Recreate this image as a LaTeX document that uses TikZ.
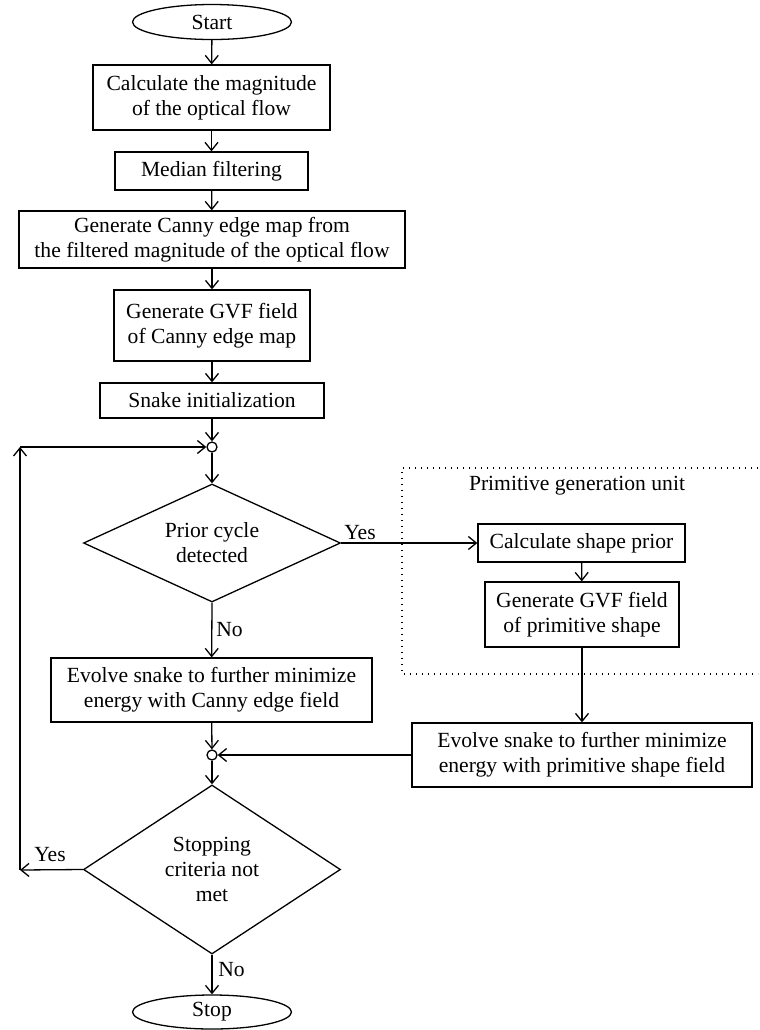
\documentclass[tikz,border=0pt]{standalone}
\usepackage{fontspec}
\setmainfont{Liberation Serif}
\usetikzlibrary{shapes.geometric,arrows.meta}
\begin{document}
\begin{tikzpicture}[x=0.5pt,y=-0.5pt,
  every node/.style={font=\fontsize{10.8}{12.5}\selectfont},
  lw/.style={line width=0.65pt},
  box/.style={draw,lw,rectangle,inner sep=0pt,align=center},
  term/.style={draw,lw,ellipse,inner sep=0pt,minimum width=79.5pt,minimum height=17.5pt},
  dec/.style={draw,lw,diamond,inner sep=0pt,align=center},
  junc/.style={draw,lw,circle,inner sep=0pt,minimum size=5pt,fill=white},
  arr/.style={lw,-{Straight Barb[length=4pt,width=6.5pt]}},
  lab/.style={inner sep=0pt}
]
\useasboundingbox (0,0) rectangle (760,1030);
% dotted unit frame
\draw[lw,dash pattern=on 0.6pt off 2.4pt] (758,468) -- (402,468) -- (402,674) -- (758,674);
\node[lab] (unit) at (577,486) {Primitive generation unit};

\node[term] (start) at (212,22) {Start};
\node[box,minimum width=118.5pt,minimum height=32.5pt] (b1) at (211.5,97.5) {Calculate the magnitude\\of the optical flow};
\node[box,minimum width=96.5pt,minimum height=19pt] (b2) at (211.5,171) {Median filtering};
\node[box,minimum width=193pt,minimum height=28.5pt] (b3) at (212,239.5) {Generate Canny edge map from\\the filtered magnitude of the optical flow};
\node[box,minimum width=98pt,minimum height=35.5pt] (b4) at (212,325.5) {Generate GVF field\\of Canny edge map};
\node[box,minimum width=112pt,minimum height=17.5pt] (b5) at (212,400.5) {Snake initialization};
\node[junc] (c1) at (212,447) {};
\node[dec,aspect=2.18,minimum width=128.5pt,minimum height=59pt] (d1) at (212,543) {Prior cycle\\detected};
\node[box,minimum width=160.5pt,minimum height=32pt] (b6) at (211.5,690) {Evolve snake to further minimize\\energy with Canny edge field};
\node[junc] (c2) at (212,755) {};
\node[dec,aspect=1.52,minimum width=128.5pt,minimum height=84.5pt] (d2) at (212,869.5) {Stopping\\criteria not\\met};
\node[term,minimum height=17pt] (stop) at (212,1012) {Stop};

\node[box,minimum width=103.5pt,minimum height=19pt] (p1) at (581.5,543) {Calculate shape prior};
\node[box,minimum width=97pt,minimum height=32.5pt] (p2) at (582,614.5) {Generate GVF field\\of primitive shape};
\node[box,minimum width=170pt,minimum height=32pt] (p3) at (582,755) {Evolve snake to further minimize\\energy with primitive shape field};

\coordinate (lb) at (20,870);
\coordinate (lt) at (20,447);

\draw[arr] (start) -- (b1);
\draw[arr] (b1) -- (b2);
\draw[arr] (b2) -- (b3);
\draw[arr] (b3) -- (b4);
\draw[arr] (b4) -- (b5);
\draw[arr] (b5) -- (c1);
\draw[arr] (c1) -- (d1);
\draw[arr] (d1.east) -- (p1.west);
\node[lab] (yes1) at (360,533) {Yes};
\draw[arr] (d1.south) -- (b6);
\node[lab,anchor=west] (no1) at (216,630) {No};
\draw[arr] (b6) -- (c2);
\draw[arr] (c2) -- (d2);
\draw[arr] (p1) -- (p2);
\draw[arr] (p2) -- (p3);
\draw[arr] (p3.west) -- (c2);
\draw[arr] (d2.west) -- (lb);
\node[lab] (yes2) at (50,855) {Yes};
\draw[arr] (lb) -- (lt);
\draw[arr] (lt) -- (c1);
\draw[arr] (d2.south) -- (stop);
\node[lab,anchor=west] (no2) at (218,970) {No};
\end{tikzpicture}
\end{document}
